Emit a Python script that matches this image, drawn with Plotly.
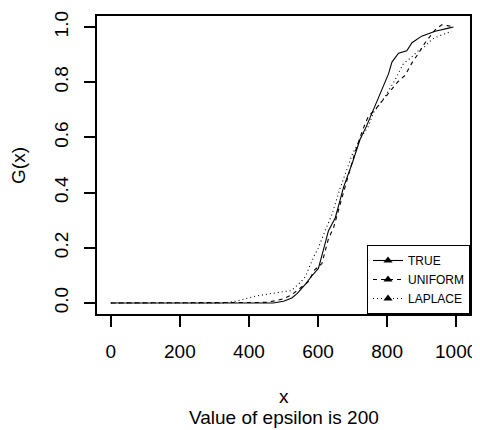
import plotly.graph_objects as go

# ---- data ----
true_x = [0, 100, 200, 300, 400, 470, 500, 524, 540, 553, 565, 580, 601, 615, 630, 650, 674, 700, 722, 740, 756, 775, 790, 804, 814, 833, 857, 872, 900, 939, 978, 992]
true_y = [0, 0, 0, 0, 0, 0, 0.006, 0.018, 0.035, 0.053, 0.07, 0.095, 0.125, 0.19, 0.261, 0.309, 0.42, 0.51, 0.594, 0.64, 0.689, 0.745, 0.79, 0.83, 0.873, 0.905, 0.914, 0.943, 0.967, 0.985, 0.996, 1.0]

unif_x = [0, 100, 200, 300, 400, 450, 476, 500, 524, 553, 572, 590, 611, 630, 645, 669, 690, 707, 730, 746, 765, 790, 804, 830, 852, 872, 891, 910, 939, 958, 975, 992]
unif_y = [0, 0, 0, 0, 0, 0.002, 0.008, 0.015, 0.03, 0.057, 0.077, 0.12, 0.142, 0.232, 0.273, 0.38, 0.47, 0.546, 0.63, 0.677, 0.70, 0.74, 0.76, 0.80, 0.825, 0.87, 0.905, 0.943, 0.99, 1.008, 1.005, 1.0]

lap_x = [0, 100, 200, 300, 330, 360, 389, 420, 457, 490, 523, 545, 563, 587, 601, 620, 640, 664, 698, 720, 746, 760, 794, 823, 847, 870, 891, 910, 929, 949, 970, 987]
lap_y = [0, 0, 0, 0, 0, 0.006, 0.015, 0.025, 0.033, 0.038, 0.045, 0.07, 0.095, 0.166, 0.2, 0.26, 0.32, 0.416, 0.535, 0.59, 0.641, 0.689, 0.748, 0.808, 0.867, 0.89, 0.915, 0.93, 0.955, 0.967, 0.978, 0.985]

series_names = ["TRUE", "UNIFORM", "LAPLACE"]
x_ticks = [0, 200, 400, 600, 800, 1000]
y_ticks = [0.0, 0.2, 0.4, 0.6, 0.8, 1.0]
y_tick_labels = ["0.0", "0.2", "0.4", "0.6", "0.8", "1.0"]

FONT = "Liberation Sans, Arial, Helvetica, sans-serif"
dashes = ["solid", "4px,4px", "1px,3px"]
data = [(true_x, true_y), (unif_x, unif_y), (lap_x, lap_y)]

fig = go.Figure()
for (xs, ys), d in zip(data, dashes):
    fig.add_trace(go.Scatter(x=xs, y=ys, mode="lines", showlegend=False,
                             line=dict(color="black", width=1.1, dash=d)))
# legend entries (line with triangle, as in the reference)
for name, d in zip(series_names, dashes):
    fig.add_trace(go.Scatter(x=[None], y=[None], mode="lines+markers", name=name,
                             line=dict(color="black", width=1.1, dash=d),
                             marker=dict(symbol="triangle-up", size=8, color="black")))

axis_common = dict(showline=True, mirror=True, linecolor="black", linewidth=1.5,
                   ticks="outside", tickcolor="black", tickwidth=1.5, ticklen=11,
                   showgrid=False, zeroline=False,
                   tickfont=dict(family=FONT, size=19, color="black"))

fig.update_xaxes(range=[-40, 1040], tickvals=x_ticks, ticklabelstandoff=8, **axis_common)
fig.update_yaxes(range=[-0.04, 1.04], tickvals=y_ticks, ticktext=y_tick_labels,
                 tickangle=-90, ticklabelstandoff=9, **axis_common)

# page body has an 8px margin, so the figure is 8px smaller than the window
fig.update_layout(
    width=472, height=422,
    margin=dict(l=89, r=9, t=3, b=116),
    paper_bgcolor="white", plot_bgcolor="white",
    font=dict(family=FONT, color="black"),
    legend=dict(x=1, y=0, xanchor="right", yanchor="bottom",
                bordercolor="black", borderwidth=1, bgcolor="white",
                font=dict(family=FONT, size=12, color="black"),
                tracegroupgap=0, itemwidth=30),
    annotations=[
        dict(text="x", xref="paper", yref="paper", x=0.5, y=-0.277,
             xanchor="center", yanchor="middle", showarrow=False,
             font=dict(family=FONT, size=19, color="black")),
        dict(text="Value of epsilon is 200", xref="paper", yref="paper", x=0.5, y=-0.3465,
             xanchor="center", yanchor="middle", showarrow=False,
             font=dict(family=FONT, size=19, color="black")),
        dict(text="G(x)", xref="paper", yref="paper", x=-0.212, y=0.5, textangle=-90,
             xanchor="center", yanchor="middle", showarrow=False,
             font=dict(family=FONT, size=19, color="black")),
    ],
)

fig.write_html("out.html")
